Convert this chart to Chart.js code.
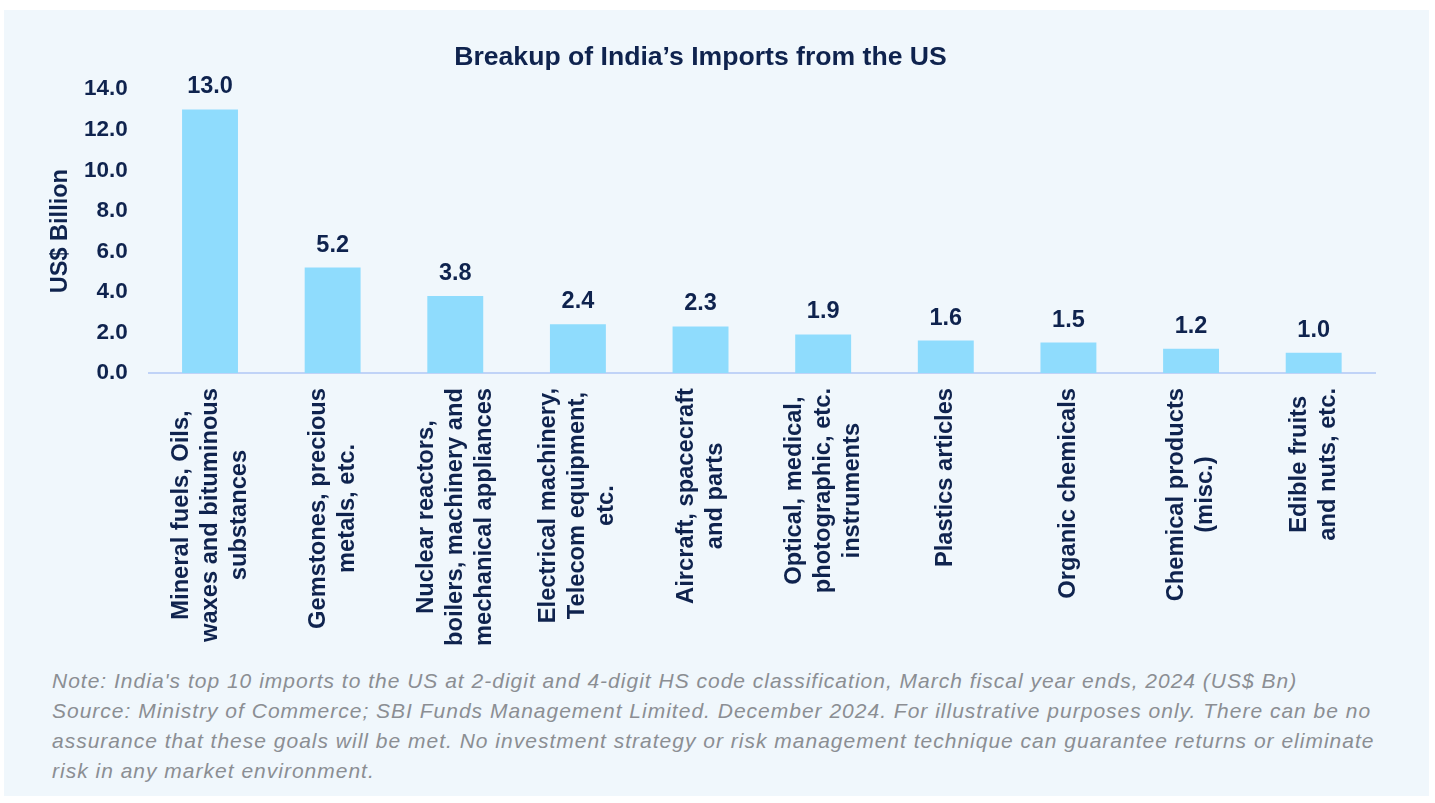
<!DOCTYPE html>
<html>
<head>
<meta charset="utf-8">
<title>Breakup of India’s Imports from the US</title>
<script src="https://cdn.jsdelivr.net/npm/chart.js@4.4.1/dist/chart.umd.min.js"></script>
<style>
  html, body { margin: 0; padding: 0; background: #ffffff; }
  #panel {
    position: absolute; left: 4px; top: 10px;
    width: 1425px; height: 786px;
    background: #f0f7fc;
  }
  #chartBox { position: absolute; left: 0; top: 0; width: 1425px; height: 650px; }
  #note {
    position: absolute; left: 48px; top: 656px;
    font: italic 21px "Liberation Sans", Arial, sans-serif;
    color: #8b8e93;
    line-height: 30px;
    letter-spacing: 1px;
    white-space: nowrap;
  }
</style>
</head>
<body>
<div id="panel">
  <div id="chartBox"><canvas id="importsChart"></canvas></div>
  <div id="note">
    Note: India's top 10 imports to the US at 2-digit and 4-digit HS code classification, March fiscal year ends, 2024 (US$ Bn)<br>
    Source: Ministry of Commerce; SBI Funds Management Limited. December 2024. For illustrative purposes only. There can be no<br>
    assurance that these goals will be met. No investment strategy or risk management technique can guarantee returns or eliminate<br>
    risk in any market environment.
  </div>
</div>

<script>
// categories, one array of lines per bar
const categories = [
  ['Mineral fuels, Oils,', 'waxes and bituminous', 'substances'],
  ['Gemstones, precious', 'metals, etc.'],
  ['Nuclear reactors,', 'boilers, machinery and', 'mechanical appliances'],
  ['Electrical machinery,', 'Telecom equipment,', 'etc.'],
  ['Aircraft, spacecraft', 'and parts'],
  ['Optical, medical,', 'photographic, etc.', 'instruments'],
  ['Plastics articles'],
  ['Organic chemicals'],
  ['Chemical products', '(misc.)'],
  ['Edible fruits', 'and nuts, etc.']
];
// US$ billion
const importValues = [13.0, 5.2, 3.8, 2.4, 2.3, 1.9, 1.6, 1.5, 1.2, 1.0];
const yTicks = [0, 2, 4, 6, 8, 10, 12, 14];

const NAVY = '#0f234e';
const FONT = '"Liberation Sans", Arial, sans-serif';

// value labels above each bar
const valueLabels = {
  id: 'valueLabels',
  afterDatasetsDraw(chart) {
    const ctx = chart.ctx;
    const meta = chart.getDatasetMeta(0);
    ctx.save();
    ctx.font = 'bold 23.5px ' + FONT;
    ctx.fillStyle = NAVY;
    ctx.textAlign = 'center';
    ctx.textBaseline = 'alphabetic';
    meta.data.forEach((bar, i) => {
      ctx.fillText(importValues[i].toFixed(1), bar.x, bar.y - 16);
    });
    ctx.restore();
  }
};

// vertical category labels, lines centred on each other
const rotatedLabels = {
  id: 'rotatedLabels',
  afterDraw(chart) {
    const ctx = chart.ctx;
    const x = chart.scales.x;
    const top = x.top + 15;
    ctx.save();
    ctx.font = 'bold 23.7px ' + FONT;
    ctx.fillStyle = NAVY;
    ctx.textAlign = 'center';
    ctx.textBaseline = 'middle';
    categories.forEach((lines, i) => {
      const px = x.getPixelForValue(i);
      const maxW = Math.max(...lines.map(l => ctx.measureText(l).width));
      ctx.save();
      ctx.translate(px, top + maxW / 2);
      ctx.rotate(-Math.PI / 2);
      lines.forEach((line, j) => {
        ctx.fillText(line, 0, (j - (lines.length - 1) / 2) * 29);
      });
      ctx.restore();
    });
    ctx.restore();
  }
};

const ctx = document.getElementById('importsChart').getContext('2d');
new Chart(ctx, {
  type: 'bar',
  data: {
    labels: categories.map(l => l.join(' ')),
    datasets: [{
      label: 'Imports',
      data: importValues,
      backgroundColor: '#8fdcfd',
      borderWidth: 0,
      categoryPercentage: 1,
      barPercentage: 0.456
    }]
  },
  options: {
    responsive: true,
    maintainAspectRatio: false,
    animation: false,
    layout: { padding: { left: 22, right: 54, top: 0, bottom: 0 } },
    plugins: {
      legend: { display: false },
      tooltip: { enabled: false },
      title: {
        display: true,
        text: 'Breakup of India’s Imports from the US',
        color: NAVY,
        font: { family: FONT, size: 26.6, weight: 'bold' },
        padding: { top: 32, bottom: 15.3 }
      }
    },
    scales: {
      x: {
        grid: { display: false, drawTicks: false },
        border: { display: true, color: '#c0d3f7', width: 2 },
        ticks: { display: false },
        afterFit(scale) { scale.height = 287; }
      },
      y: {
        min: 0,
        max: 14,
        grid: { display: false, drawTicks: false },
        border: { display: false },
        afterBuildTicks(scale) { scale.ticks = yTicks.map(v => ({ value: v })); },
        afterFit(scale) { scale.width = 122.7; },
        ticks: {
          padding: 21,
          color: NAVY,
          font: { family: FONT, size: 22.5, weight: 'bold' },
          callback: v => Number(v).toFixed(1)
        },
        title: {
          display: true,
          text: 'US$ Billion',
          color: NAVY,
          font: { family: FONT, size: 23.5, weight: 'bold' },
          padding: { top: 20, bottom: 0 }
        }
      }
    }
  },
  plugins: [valueLabels, rotatedLabels]
});
</script>
</body>
</html>
